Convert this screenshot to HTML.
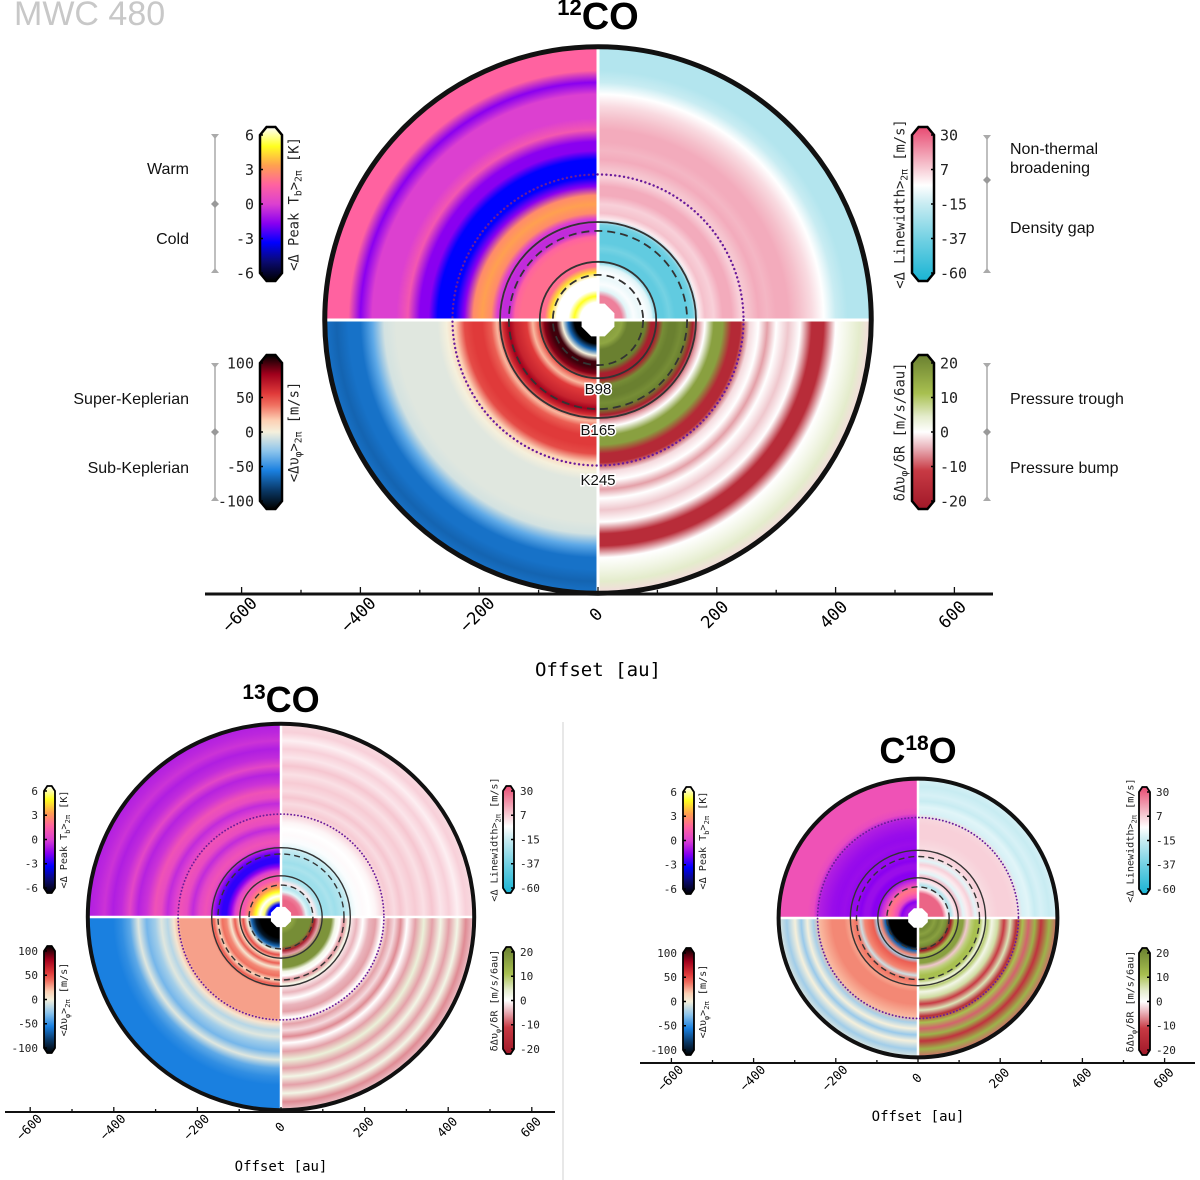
<!DOCTYPE html>
<html><head><meta charset="utf-8"><style>
html,body{margin:0;padding:0;background:#fff;}
svg{display:block;}
text{font-family:"Liberation Sans",sans-serif;}
.mono{font-family:"DejaVu Sans Mono","Liberation Mono",monospace;}
</style></head><body>
<svg id="fig" width="1200" height="1180" viewBox="0 0 1200 1180" xmlns="http://www.w3.org/2000/svg">
<defs id="defs"></defs>
<text x="14" y="25" font-size="34" fill="#c8c8c8">MWC 480</text>
<text x="598" y="29" font-size="38" text-anchor="middle" font-weight="bold"><tspan font-size="22" dy="-14">12</tspan><tspan dy="14">CO</tspan></text>
<text x="281" y="712" font-size="36" text-anchor="middle" font-weight="bold"><tspan font-size="21" dy="-13">13</tspan><tspan dy="13">CO</tspan></text>
<text x="918" y="763" font-size="36" text-anchor="middle" font-weight="bold">C<tspan font-size="21" dy="-13">18</tspan><tspan dy="13">O</tspan></text>
<line x1="563" y1="722" x2="563" y2="1180" stroke="#d0d0d0" stroke-width="1"/>
<g id="layer"></g>
</svg>
<script>
// ---- radial grid (au) ----
const RADII = [30,40,50,60,70,80,90,100,110,120,130,140,150,160,170,180,195,210,225,240,255,270,285,300,320,340,360,380,400,420,440,460];
const RADII_C18O = [30,40,50,60,70,80,90,100,110,120,130,140,150,160,170,180,195,210,225,240,255,270,285,300,320,340];
// ---- 12CO ----
const co12_peakTb = [6,4.5,6,6,6,4,1.8,1.8,1.8,1.8,1.8,1.5,-0.5,-0.5,0,2.5,3,2.5,-1.5,-3,-3,-3,-1.5,-1.5,1,0,0,0,-1.5,1.5,1.5,1.5];
const co12_linewidth = [20,20,-10,-5,-8,-5,-10,-40,-40,-35,-40,-40,-40,-35,0,8,5,12,12,5,8,12,10,12,12,8,3,-4,-15,-20,-20,-20];
const co12_dvphi = [-100,-100,-60,0,90,90,80,40,20,50,55,60,75,55,20,40,50,50,45,15,0,-5,-5,-5,-5,-5,-8,-35,-55,-55,-60,-55];
const co12_deriv = [15,14,20,20,20,20,-18,-18,18,20,20,18,20,-18,-5,0,15,15,-15,-15,-2,0,-5,0,-3,0,-14,-14,0,2,4,-2];
// ---- 13CO ----
const co13_peakTb = [-3,5,6,4.5,3,2,1,1,0,-1.5,-2.5,-2.5,-2,-1,0.5,0.8,0.3,-0.5,0.5,0.8,0,-0.5,0.5,0.8,-0.3,-0.7,0.3,-0.5,-0.8,-0.3,-0.6,-0.8];
const co13_linewidth = [25,25,20,-10,-20,0,-20,-25,-25,-22,-25,-22,-20,-15,-8,-5,-3,-4,-2,3,6,3,7,3,6,2,7,1,5,-1,5,3];
const co13_dvphi = [-100,-100,-100,-90,-60,0,45,10,40,5,30,35,10,40,25,25,25,25,25,25,5,-15,-5,-20,-30,-5,-35,-45,-50,-50,-50,-50];
const co13_deriv = [15,18,18,18,18,-18,-5,17,17,17,2,0,-6,2,-2,-4,0,-4,-5,0,-5,-2,-6,0,-5,3,-5,2,-5,2,-6,-3];
// ---- C18O ----
const c18o_peakTb = [-1,-1.5,0.5,1.5,2,0.5,-0.5,-1.5,-1.5,-1.2,-1.2,-1.5,-1.3,-1.3,-1.3,-1.2,-1.3,-1.2,-1,-0.8,0.5,0.8,0.8,0.8,0.8,0.8];
const c18o_linewidth = [25,25,25,25,0,-20,0,10,-10,0,5,-10,3,5,3,4,5,5,5,4,-12,-10,-15,-12,-15,-12];
const c18o_dvphi = [-100,-100,-100,-100,-100,-60,30,-20,40,35,30,-10,35,30,25,30,30,30,25,20,-18,0,-22,0,-20,-5];
const c18o_deriv = [18,15,18,15,18,-20,10,15,15,-3,8,10,10,3,8,2,6,-10,5,-14,10,-8,12,-12,12,-8];
// ---- axis ticks / features ----
const AXIS_TICKS = [-600,-400,-200,0,200,400,600];
const TB_TICKS = [6,3,0,-3,-6];
const LW_TICKS = [30,7,-15,-37,-60];
const VEL_TICKS = [100,50,0,-50,-100];
const DER_TICKS = [20,10,0,-10,-20];
const SOLID_RINGS = [98,165];
const DASHED_RINGS = [76,150];
const KINK_RING = 245;

const CM_TB = [[-6,'#000000'],[-4.5,'#0a0a70'],[-3,'#0000ff'],[-1.5,'#8a00f0'],[0,'#dc40d0'],[1.5,'#ff62a0'],[3,'#ffa050'],[4.5,'#ffff20'],[6,'#ffffff']];
const CM_LW = [[-60,'#18b4d4'],[-37,'#6ccfe2'],[-15,'#c8ecf2'],[-4,'#ffffff'],[7,'#f6c6d0'],[30,'#e84a72']];
const CM_VEL = [[-100,'#000000'],[-75,'#0a3a6a'],[-50,'#1a80e0'],[-25,'#8cc4ec'],[0,'#f5f0dc'],[15,'#fcd0b4'],[35,'#f07060'],[50,'#e03a3a'],[75,'#a0001c'],[100,'#000000']];
const CM_DER = [[-20,'#a01828'],[-10,'#c83a44'],[-4,'#eab4bc'],[0,'#ffffff'],[4,'#e4eccc'],[10,'#a8c050'],[20,'#6a8030']];

const NS='http://www.w3.org/2000/svg';
const layer=document.getElementById('layer');
const defs=document.getElementById('defs');
function el(tag,attrs,parent){const e=document.createElementNS(NS,tag);for(const k in attrs)e.setAttribute(k,attrs[k]);(parent||layer).appendChild(e);return e;}
function hex(c){return [parseInt(c.substr(1,2),16),parseInt(c.substr(3,2),16),parseInt(c.substr(5,2),16)];}
function cmap(cm,v){
  if(v<=cm[0][0])return cm[0][1];
  for(let i=1;i<cm.length;i++){if(v<=cm[i][0]){const t=(v-cm[i-1][0])/(cm[i][0]-cm[i-1][0]);const a=hex(cm[i-1][1]),b=hex(cm[i][1]);return 'rgb('+a.map((x,j)=>Math.round(x+(b[j]-x)*t)).join(',')+')';}}
  return cm[cm.length-1][1];
}
function sector(cx,cy,r,q){
  const sx=(q==='tl'||q==='bl')?-1:1, sy=(q==='tl'||q==='tr')?-1:1;
  const sweep=(sx*sy>0)?1:0;
  return 'M'+cx+' '+cy+' L'+(cx+sx*r)+' '+cy+' A'+r+' '+r+' 0 0 '+sweep+' '+cx+' '+(cy+sy*r)+' Z';
}
let gid=0;
function panel(P){
  const g=el('g',{});
  
  
  const sc=P.s, R=P.radii, ro=P.rmax*sc;
  const quads=[['tl',P.tb,CM_TB,'peak-tb'],['tr',P.lw,CM_LW,'linewidth'],['bl',P.vel,CM_VEL,'dvphi'],['br',P.der,CM_DER,'dvphi-derivative']];
  quads.forEach(([q,vals,cm,nm])=>{
    const id='rg'+(gid++);
    const rg=el('radialGradient',{id:id,gradientUnits:'userSpaceOnUse',cx:P.cx,cy:P.cy,r:ro},defs);
    vals.forEach((v,i)=>{
      const s=el('stop',{offset:(R[i]/P.rmax).toFixed(4),'stop-color':cmap(cm,v)},rg);
      
      
    });
    const p=el('path',{d:sector(P.cx,P.cy,ro,q),fill:'url(#'+id+')'},g);
    
    
  });
  let l=el('line',{x1:P.cx-ro,y1:P.cy,x2:P.cx+ro,y2:P.cy,stroke:'#fff','stroke-width':P.gap},g);
  
  
  l=el('line',{x1:P.cx,y1:P.cy-ro,x2:P.cx,y2:P.cy+ro,stroke:'#fff','stroke-width':P.gap},g);
  
  
  const oc=26*sc*(P.oct||1); let pts=[];
  for(let k=0;k<8;k++){const a=Math.PI/8+k*Math.PI/4;pts.push((P.cx+oc*Math.cos(a)).toFixed(1)+','+(P.cy+oc*Math.sin(a)).toFixed(1));}
  const o=el('polygon',{points:pts.join(' '),fill:'#fff'},g);
  
  
  SOLID_RINGS.forEach(r=>{const c=el('circle',{cx:P.cx,cy:P.cy,r:r*sc,fill:'none',stroke:'#333','stroke-width':P.lw_px},g);
    
    });
  DASHED_RINGS.forEach(r=>{const c=el('circle',{cx:P.cx,cy:P.cy,r:r*sc,fill:'none',stroke:'#333','stroke-width':P.lw_px,'stroke-dasharray':P.dash},g);
    
    });
  const k=el('circle',{cx:P.cx,cy:P.cy,r:KINK_RING*sc,fill:'none',stroke:'#6a1b9a','stroke-width':P.lw_px*1.3,'stroke-dasharray':'0.1 '+(P.lw_px*2.4),'stroke-linecap':'round'},g);
  
  
  const oc2=el('circle',{cx:P.cx,cy:P.cy,r:ro,fill:'none',stroke:'#111','stroke-width':P.ring},g);
  
  
  const ag=el('g',{});
  
  
  const ay=P.ay;
  el('line',{x1:P.ax0,y1:ay,x2:P.ax1,y2:ay,stroke:'#111','stroke-width':P.axw||2.5},ag);
  for(let v=-600;v<=600;v+=100){const x=P.cx+v*P.as;el('line',{x1:x,y1:ay,x2:x,y2:ay-(v%200===0?P.tk:P.tk*0.6),stroke:'#111','stroke-width':1.3},ag);}
  AXIS_TICKS.forEach(v=>{const x=P.cx+v*P.as;
    const t=el('text',{class:'mono','font-size':P.tfs,'text-anchor':'middle',transform:'translate('+(x+2)+','+(ay+P.tfs*1.45)+') rotate(-45)'},ag);
    t.textContent=v<0?'\u2212'+(-v):String(v);
    
    });
  const xt=el('text',{class:'mono','font-size':P.tfs*1.12,'text-anchor':'middle',x:P.cx,y:P.oy},ag);
  xt.textContent='Offset [au]';
  
  
}
function colorbar(o){
  const g=el('g',{});
  
  
  const id='cg'+(gid++); const lg=el('linearGradient',{id:id,x1:0,y1:1,x2:0,y2:0},defs);
  const cm=o.cm, lo=cm[0][0], hi=cm[cm.length-1][0];
  cm.forEach(s=>el('stop',{offset:(s[0]-lo)/(hi-lo),'stop-color':s[1]},lg));
  const x0=o.x,x1=o.x+o.w,yt=o.yt,yb=o.yb,e=o.e,c=o.w*0.3;
  const pts=[[x0,yt],[x0+c,yt-e],[x1-c,yt-e],[x1,yt],[x1,yb],[x1-c,yb+e],[x0+c,yb+e],[x0,yb]].map(p=>p.join(',')).join(' ');
  el('polygon',{points:pts,fill:'url(#'+id+')',stroke:'#000','stroke-width':o.sw},g);
  o.ticks.forEach((v,i)=>{const y=yt+(yb-yt)*i/(o.ticks.length-1);
    const tx=o.side==='left'?x0:x1;const d=o.side==='left'?1:-1;
    el('line',{x1:tx,y1:y,x2:tx+d*3,y2:y,stroke:'#000','stroke-width':1.5},g);
    const t=el('text',{class:'mono','font-size':o.fs,x:o.side==='left'?x0-6:x1+6,y:y+o.fs*0.35,'text-anchor':o.side==='left'?'end':'start',fill:'#222'},g);
    t.textContent=String(v);
    
    });
  const lx=o.side==='left'?x1+o.fs*1.1:x0-o.fs*0.5;
  const t=el('text',{class:'mono','font-size':o.fs*0.92,'text-anchor':'middle',transform:'translate('+lx+','+(yt+yb)/2+') rotate(-90)',fill:'#222'},g);
  t.innerHTML=o.label;
  
  
}
function bracket(x,yt,yb,ym,labels,side,name){
  const g=el('g',{});
  
  
  el('line',{x1:x,y1:yt,x2:x,y2:yb,stroke:'#aaa','stroke-width':1.5},g);
  el('polygon',{points:(x-4)+','+yt+' '+(x+4)+','+yt+' '+x+','+(yt+5),fill:'#aaa'},g);
  el('polygon',{points:(x-4)+','+yb+' '+(x+4)+','+yb+' '+x+','+(yb-5),fill:'#aaa'},g);
  el('polygon',{points:x+','+(ym-4)+' '+(x+4)+','+ym+' '+x+','+(ym+4)+' '+(x-4)+','+ym,fill:'#999'},g);
  labels.forEach(([txt,y])=>{const t=el('text',{x:side==='left'?x-26:x+23,y:y,'font-size':16,'text-anchor':side==='left'?'end':'start',fill:'#111'},g);
    t.textContent=txt;
    
    });
}
const LB_TB='&lt;Δ Peak T<tspan font-size="70%" dy="3">b</tspan><tspan dy="-3">&gt;</tspan><tspan font-size="70%" dy="3">2π</tspan><tspan dy="-3"> [K]</tspan>';
const LB_LW='&lt;Δ Linewidth&gt;<tspan font-size="70%" dy="3">2π</tspan><tspan dy="-3"> [m/s]</tspan>';
const LB_VEL='&lt;Δυ<tspan font-size="70%" dy="3">φ</tspan><tspan dy="-3">&gt;</tspan><tspan font-size="70%" dy="3">2π</tspan><tspan dy="-3"> [m/s]</tspan>';
const LB_DER='δΔυ<tspan font-size="70%" dy="3">φ</tspan><tspan dy="-3">/δR [m/s/6au]</tspan>';

panel({name:'co12',cx:598,cy:320,s:0.594,rmax:460,radii:RADII,tb:co12_peakTb,lw:co12_linewidth,vel:co12_dvphi,der:co12_deriv,gap:3,lw_px:1.8,dash:'8 5',ring:5,ay:594,ax0:205,ax1:993,as:0.594,tk:7,tfs:17,oy:676,oct:1.15,axw:3});
panel({name:'co13',cx:281,cy:917,s:0.42,rmax:460,radii:RADII,tb:co13_peakTb,lw:co13_linewidth,vel:co13_dvphi,der:co13_deriv,gap:2.5,lw_px:1.4,dash:'6 4',ring:4,ay:1112,ax0:5,ax1:555,as:0.418,tk:5,tfs:12.5,oy:1171,oct:1,axw:2});
panel({name:'c18o',cx:918,cy:918,s:0.41,rmax:340,radii:RADII_C18O,tb:c18o_peakTb,lw:c18o_linewidth,vel:c18o_dvphi,der:c18o_deriv,gap:2.5,lw_px:1.4,dash:'6 4',ring:4,ay:1063,ax0:640,ax1:1195,as:0.411,tk:5,tfs:12.5,oy:1121,oct:1,axw:2});

[['B98',394],['B165',435],['K245',485]].forEach(([t,y])=>{const e=el('text',{x:598,y:y,'font-size':15,'text-anchor':'middle',stroke:'#fff','stroke-width':3,'paint-order':'stroke',fill:'#111'});
  e.textContent=t;
  
  });

colorbar({name:'co12-colorbar-peak-tb',cm:CM_TB,ticks:TB_TICKS,x:260,w:22,yt:135,yb:273,e:8,side:'left',fs:15,sw:2.5,label:LB_TB});
colorbar({name:'co12-colorbar-dvphi',cm:CM_VEL,ticks:VEL_TICKS,x:260,w:22,yt:363,yb:501,e:8,side:'left',fs:15,sw:2.5,label:LB_VEL});
colorbar({name:'co12-colorbar-linewidth',cm:CM_LW,ticks:LW_TICKS,x:912,w:22,yt:135,yb:273,e:8,side:'right',fs:15,sw:2.5,label:LB_LW});
colorbar({name:'co12-colorbar-derivative',cm:CM_DER,ticks:DER_TICKS,x:912,w:22,yt:363,yb:501,e:8,side:'right',fs:15,sw:2.5,label:LB_DER});
bracket(215,134,273,204,[['Warm',174],['Cold',244]],'left','bracket-temperature');
bracket(215,363,501,432,[['Super-Keplerian',404],['Sub-Keplerian',473]],'left','bracket-kepler');
bracket(987,135,273,180,[['Non-thermal',154],['broadening',173],['Density gap',233]],'right','bracket-linewidth');
bracket(987,363,501,432,[['Pressure trough',404],['Pressure bump',473]],'right','bracket-pressure');
colorbar({name:'co13-colorbar-peak-tb',cm:CM_TB,ticks:TB_TICKS,x:44,w:11,yt:791,yb:888,e:5,side:'left',fs:11,sw:1.8,label:LB_TB});
colorbar({name:'co13-colorbar-dvphi',cm:CM_VEL,ticks:VEL_TICKS,x:44,w:11,yt:951,yb:1048,e:5,side:'left',fs:11,sw:1.8,label:LB_VEL});
colorbar({name:'co13-colorbar-linewidth',cm:CM_LW,ticks:LW_TICKS,x:503,w:11,yt:791,yb:888,e:5,side:'right',fs:11,sw:1.8,label:LB_LW});
colorbar({name:'co13-colorbar-derivative',cm:CM_DER,ticks:DER_TICKS,x:503,w:11,yt:952,yb:1049,e:5,side:'right',fs:11,sw:1.8,label:LB_DER});
colorbar({name:'c18o-colorbar-peak-tb',cm:CM_TB,ticks:TB_TICKS,x:683,w:11,yt:792,yb:889,e:5,side:'left',fs:11,sw:1.8,label:LB_TB});
colorbar({name:'c18o-colorbar-dvphi',cm:CM_VEL,ticks:VEL_TICKS,x:683,w:11,yt:953,yb:1050,e:5,side:'left',fs:11,sw:1.8,label:LB_VEL});
colorbar({name:'c18o-colorbar-linewidth',cm:CM_LW,ticks:LW_TICKS,x:1139,w:11,yt:792,yb:889,e:5,side:'right',fs:11,sw:1.8,label:LB_LW});
colorbar({name:'c18o-colorbar-derivative',cm:CM_DER,ticks:DER_TICKS,x:1139,w:11,yt:953,yb:1050,e:5,side:'right',fs:11,sw:1.8,label:LB_DER});
</script>
</body></html>
